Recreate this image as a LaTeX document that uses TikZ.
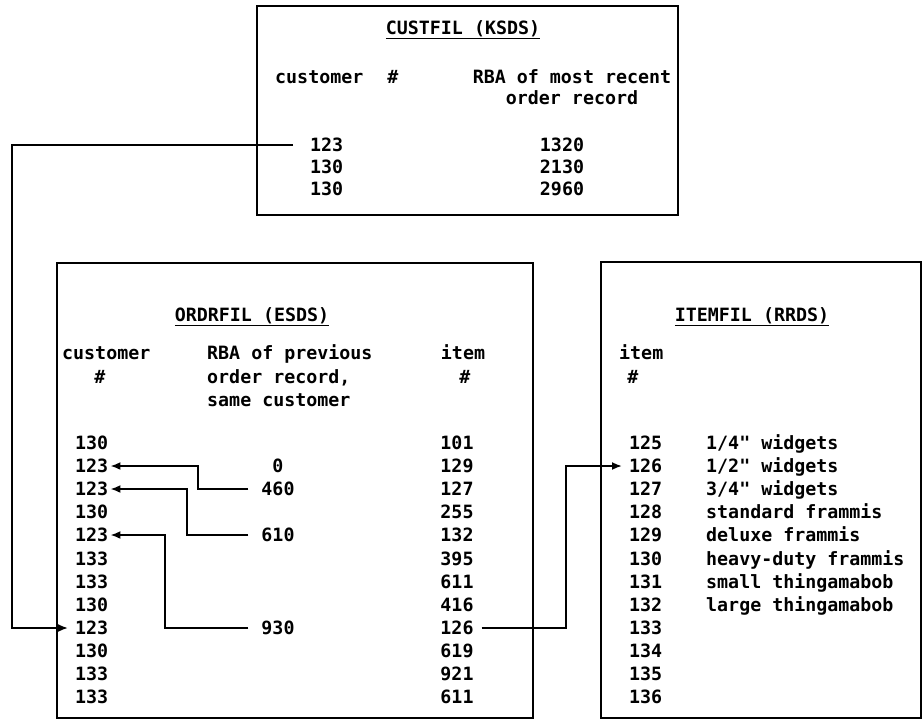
\documentclass[tikz,border=0pt]{standalone}
\usepackage{fontspec}
\newfontfamily\listfont{DejaVu Sans Mono}
\usetikzlibrary{arrows.meta}
\tikzset{
  txt/.style={inner sep=0pt, text height=13pt, text depth=0pt,
    font=\listfont\bfseries\fontsize{18.3pt}{22pt}\selectfont},
  filebox/.style={line width=2pt},
  link/.style={line width=1.8pt, -{Latex[length=10pt,width=8pt]}}
}
\begin{document}
\begin{tikzpicture}[x=1pt, y=-1pt]
    \useasboundingbox (0,0) rectangle (924,721);
    % the three files
    \draw[filebox] (257,6) rectangle (678,215);
    \draw[filebox] (57,263) rectangle (533,718);
    \draw[filebox] (601,262) rectangle (921,718);

    % CUSTFIL
    \node[txt] (kt) at (463,28) {\underline{CUSTFIL (KSDS)}};
    \node[txt, anchor=west] (kh1) at (275,77) {customer};
    \node[txt] (kh2) at (393,77) {\#};
    \node[txt] (kh3) at (572,77) {RBA of most recent};
    \node[txt] (kh4) at (572,98) {order record};
    \node[txt, anchor=west] (K1) at (310,145) {123};
    \node[txt, anchor=west] (K2) at (310,167) {130};
    \node[txt, anchor=west] (K3) at (310,189) {130};
    \node[txt] (L1) at (562,145) {1320};
    \node[txt] (L2) at (562,167) {2130};
    \node[txt] (L3) at (562,189) {2960};

    % ORDRFIL
    \node[txt] (ot) at (252,315) {\underline{ORDRFIL (ESDS)}};
    \node[txt, anchor=west] (oh1) at (62,353) {customer};
    \node[txt] (oh2) at (100,377) {\#};
    \node[txt, anchor=west] (oh3) at (207,353) {RBA of previous};
    \node[txt, anchor=west] (oh4) at (207,377) {order record,};
    \node[txt, anchor=west] (oh5) at (207,400) {same customer};
    \node[txt] (oh6) at (463,353) {item};
    \node[txt] (oh7) at (465,377) {\#};
    \node[txt, anchor=west] (C1) at (75,443) {130};
    \node[txt, anchor=west] (C2) at (75,466) {123};
    \node[txt, anchor=west] (C3) at (75,489) {123};
    \node[txt, anchor=west] (C4) at (75,512) {130};
    \node[txt, anchor=west] (C5) at (75,535) {123};
    \node[txt, anchor=west] (C6) at (75,559) {133};
    \node[txt, anchor=west] (C7) at (75,582) {133};
    \node[txt, anchor=west] (C8) at (75,605) {130};
    \node[txt, anchor=west] (C9) at (75,628) {123};
    \node[txt, anchor=west] (C10) at (75,651) {130};
    \node[txt, anchor=west] (C11) at (75,674) {133};
    \node[txt, anchor=west] (C12) at (75,697) {133};
    \node[txt] (R2) at (278,466) {0};
    \node[txt] (R3) at (278,489) {460};
    \node[txt] (R5) at (278,535) {610};
    \node[txt] (R9) at (278,628) {930};
    \node[txt] (I1) at (457,443) {101};
    \node[txt] (I2) at (457,466) {129};
    \node[txt] (I3) at (457,489) {127};
    \node[txt] (I4) at (457,512) {255};
    \node[txt] (I5) at (457,535) {132};
    \node[txt] (I6) at (457,559) {395};
    \node[txt] (I7) at (457,582) {611};
    \node[txt] (I8) at (457,605) {416};
    \node[txt] (I9) at (457,628) {126};
    \node[txt] (I10) at (457,651) {619};
    \node[txt] (I11) at (457,674) {921};
    \node[txt] (I12) at (457,697) {611};

    % ITEMFIL
    \node[txt] (tt) at (752,315) {\underline{ITEMFIL (RRDS)}};
    \node[txt, anchor=west] (th1) at (619,353) {item};
    \node[txt] (th2) at (633,377) {\#};
    \node[txt, anchor=west] (T1) at (629,443) {125};
    \node[txt, anchor=west] (T2) at (629,466) {126};
    \node[txt, anchor=west] (T3) at (629,489) {127};
    \node[txt, anchor=west] (T4) at (629,512) {128};
    \node[txt, anchor=west] (T5) at (629,535) {129};
    \node[txt, anchor=west] (T6) at (629,559) {130};
    \node[txt, anchor=west] (T7) at (629,582) {131};
    \node[txt, anchor=west] (T8) at (629,605) {132};
    \node[txt, anchor=west] (T9) at (629,628) {133};
    \node[txt, anchor=west] (T10) at (629,651) {134};
    \node[txt, anchor=west] (T11) at (629,674) {135};
    \node[txt, anchor=west] (T12) at (629,697) {136};
    \node[txt, anchor=west] (D1) at (706,443) {1/4" widgets};
    \node[txt, anchor=west] (D2) at (706,466) {1/2" widgets};
    \node[txt, anchor=west] (D3) at (706,489) {3/4" widgets};
    \node[txt, anchor=west] (D4) at (706,512) {standard frammis};
    \node[txt, anchor=west] (D5) at (706,535) {deluxe frammis};
    \node[txt, anchor=west] (D6) at (706,559) {heavy-duty frammis};
    \node[txt, anchor=west] (D7) at (706,582) {small thingamabob};
    \node[txt, anchor=west] (D8) at (706,605) {large thingamabob};

    % chains of RBAs
    \draw[link, shorten >=7pt] ([xshift=-17pt]K1.west) -- ++(-281,0) |- (C9.west);
    \draw[link, shorten >=2pt] ([xshift=-13pt]R3.west) -- ++(-50,0) |- (C2.east);
    \draw[link, shorten >=2pt] ([xshift=-13pt]R5.west) -- ++(-61,0) |- (C3.east);
    \draw[link, shorten >=2pt] ([xshift=-13pt]R9.west) -- ++(-83,0) |- (C5.east);
    \draw[link, shorten >=7pt] ([xshift=8pt]I9.east) -- ++(84,0) |- (T2.west);
\end{tikzpicture}
\end{document}
